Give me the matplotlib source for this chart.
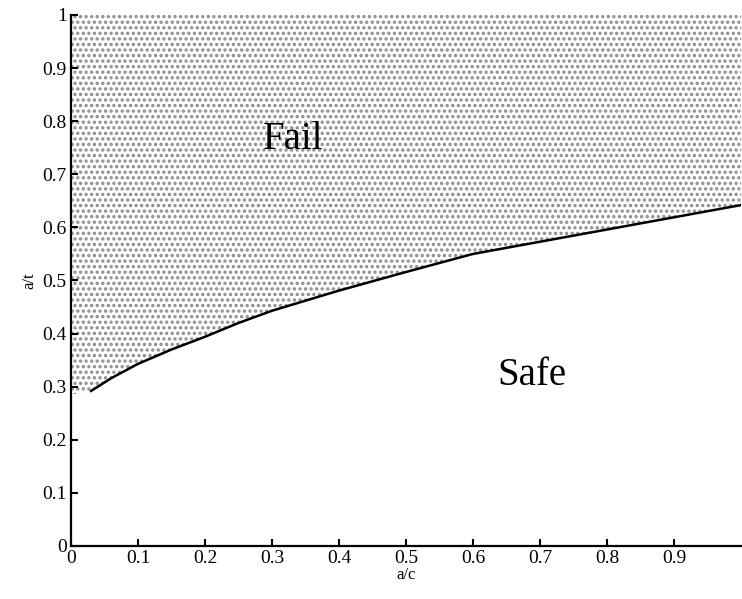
import numpy as np
import matplotlib.pyplot as plt

# limit curve
ac = [0.03, 0.06, 0.1, 0.15, 0.2, 0.25, 0.3, 0.4, 0.5, 0.6, 0.7, 0.8, 0.9, 1.0]
at = [0.292, 0.316, 0.343, 0.370, 0.394, 0.420, 0.443, 0.481, 0.516, 0.550, 0.573, 0.596, 0.619, 0.642]
xticks = [0, 0.1, 0.2, 0.3, 0.4, 0.5, 0.6, 0.7, 0.8, 0.9]
yticks = [0, 0.1, 0.2, 0.3, 0.4, 0.5, 0.6, 0.7, 0.8, 0.9, 1]

plt.rcParams['font.family'] = ['Liberation Serif', 'DejaVu Serif']
plt.rcParams['hatch.color'] = '#8a8a8a'
plt.rcParams['hatch.linewidth'] = 1.6

fig = plt.figure(figsize=(7.42, 5.99), dpi=100)
ax = fig.add_axes([0.0957, 0.0885, 0.903, 0.8865])

# dotted fail region above the curve
xf = [0] + ac
yf = [at[0] - 0.007] + at
ax.fill_between(xf, yf, 1, facecolor='white', edgecolor='#8a8a8a', hatch='...', linewidth=0)
ax.plot(ac, at, color='black', lw=1.8)

ax.text(0.331, 0.765, 'Fail', fontsize=28, ha='center', va='center')
ax.text(0.688, 0.322, 'Safe', fontsize=28, ha='center', va='center')

ax.set_xlim(0, 1)
ax.set_ylim(0, 1)
ax.set_xticks(xticks)
ax.set_xticklabels([f'{v:g}' for v in xticks])
ax.set_yticks(yticks)
ax.set_yticklabels([f'{v:g}' for v in yticks])
ax.tick_params(direction='in', length=5, width=1.5, labelsize=14, pad=3)
for s in ['top', 'right']:
    ax.spines[s].set_visible(False)
for s in ['left', 'bottom']:
    ax.spines[s].set_linewidth(1.6)
ax.set_xlabel('a/c', fontsize=12, labelpad=0)
ax.set_ylabel('a/t', fontsize=12, labelpad=4)

fig.savefig('out.png', dpi=100)
